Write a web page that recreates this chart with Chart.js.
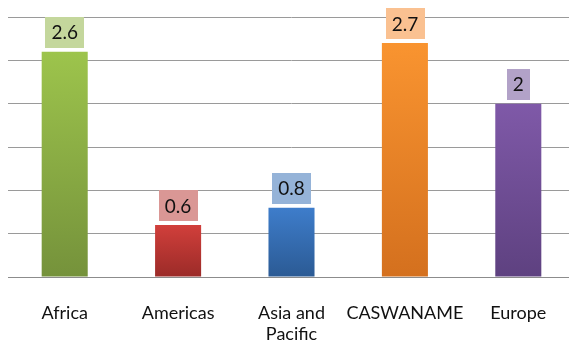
<!DOCTYPE html>
<html>
<head>
<meta charset="utf-8">
<script src="https://cdn.jsdelivr.net/npm/chart.js@4"></script>
<style>
  html, body { margin: 0; padding: 0; background: #fff; overflow: hidden; }
  #wrap { width: 577px; height: 340px; }
</style>
</head>
<body>
<div id="wrap"><canvas id="chart" width="577" height="340"></canvas></div>
<script>
const categories = ['Africa', 'Americas', ['Asia and', 'Pacific'], 'CASWANAME', 'Europe'];
const values = [2.6, 0.6, 0.8, 2.7, 2];

// couleurs : haut / bas du dégradé, fond de l'étiquette
const barTop = ['#9DC44C', '#D13F3B', '#3E7DCB', '#F99430', '#7F59A8'];
const barBottom = ['#75923B', '#9B2B28', '#2B5A94', '#D4701E', '#5E4180'];
const labelBg = ['#C4D79C', '#DA9795', '#95B3D8', '#FAC191', '#B2A2C8'];

const valueBoxes = {
  id: 'valueBoxes',
  afterDatasetsDraw(chart) {
    const ctx = chart.ctx;
    const meta = chart.getDatasetMeta(0);
    ctx.save();
    ctx.font = '19px Lato';
    ctx.textAlign = 'center';
    ctx.textBaseline = 'middle';
    meta.data.forEach((bar, i) => {
      const txt = String(values[i]);
      const w = ctx.measureText(txt).width + 12;
      const h = 31;
      const bottom = bar.y - 4;
      ctx.fillStyle = labelBg[i];
      ctx.fillRect(Math.round(bar.x - w / 2), Math.round(bottom - h), Math.round(w), h);
      ctx.fillStyle = '#111';
      ctx.fillText(txt, bar.x, bottom - h / 2 + 1);
    });
    ctx.restore();
  }
};

const ctx = document.getElementById('chart').getContext('2d');
new Chart(ctx, {
  type: 'bar',
  data: {
    labels: categories,
    datasets: [{
      data: values,
      backgroundColor: (c) => {
        const area = c.chart.chartArea;
        const yScale = c.chart.scales.y;
        if (!area || !yScale) return barTop[c.dataIndex];
        const y0 = yScale.getPixelForValue(values[c.dataIndex]);
        if (!isFinite(y0)) return barTop[c.dataIndex];
        const g = c.chart.ctx.createLinearGradient(0, y0, 0, area.bottom);
        g.addColorStop(0, barTop[c.dataIndex]);
        g.addColorStop(1, barBottom[c.dataIndex]);
        return g;
      },
      borderWidth: 0,
      categoryPercentage: 1,
      barPercentage: 0.406
    }]
  },
  options: {
    responsive: false,
    animation: false,
    layout: { padding: { top: 17, left: 8, right: 2, bottom: 0 } },
    plugins: {
      legend: { display: false },
      tooltip: { enabled: false }
    },
    scales: {
      x: {
        grid: { display: false },
        border: { color: '#8c8c8c', width: 1 },
        ticks: {
          color: '#111',
          font: { family: 'Lato', size: 18 },
          padding: 17,
          maxRotation: 0,
          autoSkip: false
        },
        afterFit: (scale) => { scale.height = 63; }
      },
      y: {
        min: 0,
        max: 3,
        ticks: { display: false, stepSize: 0.5 },
        grid: { color: '#9a9a9a', lineWidth: 1, drawTicks: false },
        border: { display: false }
      }
    }
  },
  plugins: [valueBoxes]
});
</script>
</body>
</html>
